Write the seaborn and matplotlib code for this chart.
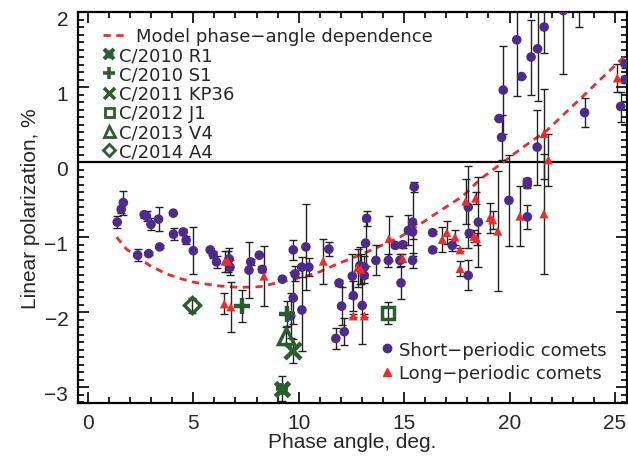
import matplotlib
matplotlib.use("Agg")
import matplotlib.pyplot as plt
import matplotlib.transforms as mtrans
from matplotlib.lines import Line2D
from matplotlib.legend_handler import HandlerTuple
from matplotlib.ticker import MultipleLocator
import seaborn as sns
import pandas as pd

# ---- data: short-periodic comets (x = phase angle, y = polarization, e = error)
sp_x = [1.39, 1.58, 1.68, 2.36, 2.67, 2.78, 2.88, 2.99, 3.35, 3.40, 4.05, 4.06, 4.52, 4.66,
        5.00, 5.80, 5.94, 6.10, 6.70, 6.74, 7.64, 7.72, 8.13, 8.27, 9.22, 9.74, 9.74, 9.62,
        9.82, 10.15, 10.34, 10.14, 10.48, 11.43, 11.91, 12.03, 12.16, 11.76, 12.54, 12.59,
        12.90, 13.11, 13.11, 13.01, 13.17, 13.22, 13.66, 14.25, 14.58, 14.94, 14.80, 14.85,
        15.20, 15.40, 15.40, 15.48, 15.40, 16.35, 16.35, 17.28, 18.04, 18.04, 18.09, 18.52,
        19.97, 20.84, 20.84, 20.84, 19.70, 19.50, 19.62, 20.34, 20.57, 21.02, 21.33, 21.31,
        21.64, 22.55, 23.27, 23.56, 25.47, 25.47, 25.27]
sp_y = [-0.80, -0.63, -0.54, -1.24, -0.70, -0.72, -1.22, -0.83, -0.76, -1.13, -0.68, -0.96, -0.93, -1.04,
        -1.18, -1.17, -1.23, -1.33, -1.29, -1.40, -1.44, -1.33, -1.24, -1.43, -1.56, -1.17, -1.81, -2.05,
        -1.49, -1.97, -1.13, -1.40, -1.40, -1.16, -1.61, -1.92, -2.26, -2.35, -1.52, -1.78,
        -1.38, -1.40, -1.51, -1.91, -1.08, -0.75, -1.31, -1.31, -1.11, -1.10, -1.31, -1.61,
        -0.91, -0.80, -0.93, -0.33, -1.31, -0.94, -1.17, -1.11, -1.51, -0.60, -0.95, -0.80,
        -0.51, -0.26, -0.30, -0.73, 0.96, 0.58, 0.33, 1.63, 1.14, 1.40, 1.51, 0.20,
        1.80, 2.02, 2.25, 0.66, 1.31, 1.10, 0.74]
sp_e = [0.08, 0.05, 0.16, 0.08, 0.04, 0.07, 0.02, 0.08, 0.16, 0.02, 0.01, 0.08, 0.04, 0.05,
        0.31, 0.02, 0.05, 0.08, 0.15, 0.10, 0.37, 0.04, 0.01, 0.04, 0.03, 0.13, 0.35, 0.30,
        0.10, 0.55, 0.57, 0.13, 0.12, 0.09, 0.04, 0.25, 0.18, 0.14, 0.29, 0.20,
        0.25, 0.15, 0.10, 0.52, 0.30, 0.10, 0.20, 0.09, 0.02, 0.04, 0.09, 0.22,
        0.20, 0.45, 0.10, 0.07, 0.10, 0.02, 0.03, 0.08, 0.20, 0.55, 0.05, 0.60,
        0.61, 0.05, 0.05, 0.16, 0.59, 0.01, 0.30, 0.75, 0.01, 0.50, 0.70, 0.50,
        0.34, 0.85, 0.45, 0.19, 0.05, 0.05, 0.20]

# ---- long-periodic comets
lp_x = [6.50, 6.63, 6.47, 6.78, 8.35, 11.16, 12.59, 12.79, 12.95, 13.11, 14.28, 14.92, 16.81,
        17.02, 17.41, 17.65, 17.65, 17.92, 18.39, 18.31, 18.44, 19.07, 19.20, 19.44, 20.49,
        21.63, 21.63, 21.84, 25.11]
lp_y = [-1.32, -1.32, -1.89, -1.93, -1.52, -1.32, -2.05, -1.41, -1.43, -2.05, -1.02, -1.28, -1.03,
        -0.94, -1.00, -1.17, -1.42, -0.52, -0.48, -0.99, -1.02, -0.74, -0.77, -0.92, -0.72,
        -0.69, 0.38, 0.03, 1.12]
lp_e = [0.14, 0.14, 0.14, 0.33, 0.40, 0.30, 0.02, 0.25, 0.20, 0.02, 0.30, 0.05, 0.17,
        0.15, 0.10, 0.02, 0.10, 0.30, 0.08, 0.08, 0.08, 0.20, 0.12, 0.80, 0.40,
        0.80, 0.60, 0.35, 0.19]

# ---- individual comets
comet_names = ["C/2010 R1", "C/2010 S1", "C/2011 KP36", "C/2012 J1", "C/2013 V4", "C/2014 A4"]
comet_x = [[9.22], [7.32, 9.42], [9.71], [14.22], [9.39], [4.92]]
comet_y = [[-3.02], [-1.92, -2.02], [-2.52], [-2.01], [-2.32], [-1.91]]
comet_e = [[0.17], [0.21, 0.17], [0.16], [0.15], [0.12], [0.10]]

# ---- model phase-angle dependence
model_x = [1.36, 1.83, 2.94, 3.73, 4.36, 5.00, 6.20, 7.20, 8.16, 9.11, 10.06, 10.85, 11.64,
           13.22, 14.80, 15.90, 16.70, 17.80, 18.60, 19.70, 20.50, 21.76, 23.34, 25.16, 25.60]
model_y = [-1.00, -1.16, -1.38, -1.49, -1.55, -1.60, -1.65, -1.67, -1.66, -1.60, -1.54, -1.48, -1.38,
           -1.20, -1.00, -0.80, -0.65, -0.45, -0.23, 0.00, 0.17, 0.42, 0.84, 1.33, 1.45]

PURPLE = "#4d2a8c"
RED = "#ee2a2a"
GREEN = "#2a5e2e"
ERRC = "#222222"
DASH = (0, (2.6, 2.0))
CAP = 2.6

sns.set_theme(style="ticks")
plt.rcParams["font.family"] = ["DejaVu Sans"]

fig = plt.figure(figsize=(6.28, 4.64), dpi=100)
ax = fig.add_axes([78 / 628, 60 / 464, 549 / 628, 391 / 464])

ax.axhline(0, color="black", lw=1.6, zorder=1)
ax.plot(model_x, model_y, color=RED, lw=2, ls=DASH, zorder=2)

ax.errorbar(sp_x, sp_y, yerr=sp_e, fmt="none", ecolor=ERRC, elinewidth=1.0, capsize=CAP, capthick=1.0, zorder=3)
ax.errorbar(lp_x, lp_y, yerr=lp_e, fmt="none", ecolor=ERRC, elinewidth=1.0, capsize=CAP, capthick=1.0, zorder=3)

sp_df = pd.DataFrame({"x": sp_x, "y": sp_y})
lp_df = pd.DataFrame({"x": lp_x, "y": lp_y})
sns.scatterplot(data=sp_df, x="x", y="y", ax=ax, color=PURPLE, marker="o", s=48, edgecolor="none", zorder=4)
sns.scatterplot(data=lp_df, x="x", y="y", ax=ax, color=RED, marker="^", s=42, edgecolor="none", zorder=4)

# each comet style is a list of marker layers drawn on top of each other
comet_styles = [
    [dict(marker="x", ms=10, mew=3.6), dict(marker="+", ms=8, mew=2.6)],
    [dict(marker="+", ms=12, mew=3.2)],
    [dict(marker="x", ms=11, mew=3.2)],
    [dict(marker="s", ms=9, mew=2.5, mfc="none")],
    [dict(marker="^", ms=11, mew=2.5, mfc="none")],
    [dict(marker="D", ms=8.5, mew=2.5, mfc="none")],
]
for cx, cy, ce, layers in zip(comet_x, comet_y, comet_e, comet_styles):
    ax.errorbar(cx, cy, yerr=ce, fmt="none", ecolor=ERRC, elinewidth=1.0, capsize=CAP, capthick=1.0, zorder=5)
    for st in layers:
        ax.plot(cx, cy, ls="none", color=GREEN, mec=GREEN, zorder=6, **st)

ax.set_xlim(-0.47, 25.57)
ax.set_ylim(-3.21, 2.0)
ax.xaxis.set_major_locator(MultipleLocator(5))
ax.xaxis.set_minor_locator(MultipleLocator(1))
ax.yaxis.set_major_locator(MultipleLocator(1))
ax.yaxis.set_minor_locator(MultipleLocator(0.1))
ax.tick_params(which="both", direction="in", top=True, right=True, color="black", width=1.2)
ax.tick_params(which="major", length=8, labelsize=15, pad=7)
ax.tick_params(which="minor", length=4)
ax.tick_params(axis="x", which="major", pad=7)
for lab in ax.get_xticklabels() + ax.get_yticklabels():
    lab.set_fontfamily("Liberation Sans")
for lab in ax.get_yticklabels():
    lab.set_transform(lab.get_transform() + mtrans.ScaledTranslation(0, -4 / 72, fig.dpi_scale_trans))
for sp in ax.spines.values():
    sp.set_linewidth(1.6)
    sp.set_color("black")

ax.set_xlabel("Phase angle, deg.", fontsize=15, family="Liberation Sans", labelpad=0)
ax.set_ylabel("Linear polarization, %", fontsize=15, family="Liberation Sans", labelpad=3)

FS = 13
# legend: model line
h_model = [Line2D([], [], color=RED, lw=2, ls=DASH)]
leg1 = ax.legend(h_model, ["Model phase\u2212angle dependence"], loc="center left",
                 bbox_to_anchor=(0.033, 0.9386), frameon=False, fontsize=FS, handlelength=1.25,
                 handletextpad=0.55, borderaxespad=0.0)
ax.add_artist(leg1)

# legend: individual comets
h_comets = []
for layers in comet_styles:
    parts = tuple(Line2D([], [], ls="none", color=GREEN, mec=GREEN,
                         **{**st, "ms": st["ms"] * 0.72, "mew": st["mew"] * 0.8}) for st in layers)
    h_comets.append(parts)
leg2 = ax.legend(h_comets, comet_names, loc="center left", bbox_to_anchor=(0.031, 0.7665),
                 frameon=False, fontsize=FS, handlelength=0.8, handletextpad=0.15,
                 labelspacing=0.07, handleheight=0.6, borderaxespad=0.0,
                 handler_map={tuple: HandlerTuple(ndivide=1)})
ax.add_artist(leg2)

# legend: comet families
h_types = [Line2D([], [], ls="none", marker="o", color=PURPLE, ms=6),
           Line2D([], [], ls="none", marker="^", color=RED, ms=6)]
ax.legend(h_types, ["Short\u2212periodic comets", "Long\u2212periodic comets"], loc="center right",
          bbox_to_anchor=(0.976, 0.1060), frameon=False, fontsize=FS, handlelength=0.6,
          handletextpad=0.37, labelspacing=0.32, borderaxespad=0.0)

fig.savefig("out.png", dpi=100)
